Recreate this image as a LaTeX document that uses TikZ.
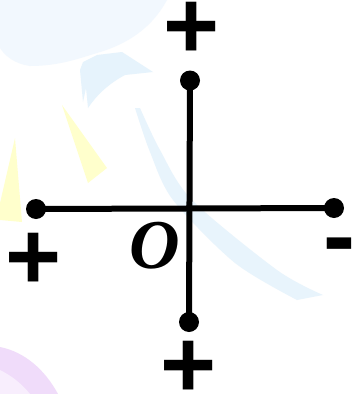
\documentclass[tikz,border=0pt]{standalone}
\usepackage{fontspec}
\setmainfont{Liberation Sans}
\newfontfamily\oserif{Liberation Serif}
\definecolor{paleblue}{HTML}{F2F8FE}
\definecolor{lightblue}{HTML}{E6F3FC}
\definecolor{arcblue}{HTML}{E8F4FC}
\definecolor{paleyellow}{HTML}{FFFFCC}
\definecolor{lilac}{HTML}{F0DCFA}
\definecolor{palelilac}{HTML}{F8EEFD}
\tikzset{
  dot/.style={circle,fill=black,inner sep=0pt,minimum size=20pt},
  axisline/.style={line width=6pt,black},
  sign/.style={inner sep=0pt,font=\fontsize{96}{96}\selectfont\bfseries},
  origin/.style={inner sep=0pt,font=\fontsize{70}{70}\selectfont\oserif\bfseries\itshape}
}
\begin{document}
\begin{tikzpicture}[x=1pt,y=-1pt]
\useasboundingbox (0,0) rectangle (355,394);
\fill[white] (0,0) rectangle (355,394);
% background decoration
\fill[paleblue] (0,0) -- (167,0) .. controls (155,22) and (135,42) .. (97,53)
  .. controls (80,58) and (60,66) .. (30,66) .. controls (15,64) and (5,56) .. (0,48) -- cycle;
\fill[lightblue] (83,62) -- (97,55) -- (122,52) -- (153,72) -- (125,75)
  .. controls (108,84) and (96,96) .. (88,108) -- (86,88) -- (83,102) -- (80,70) -- cycle;
\fill[arcblue] plot[smooth] coordinates {(135,108) (150,152) (173,200) (235,263) (297,300)}
  -- (323,295) -- plot[smooth] coordinates {(323,295) (277,270) (192,200) (160,150) (140,108)} -- cycle;
\fill[paleyellow] (62,105) -- (107,168) -- (88,183) -- cycle;
\fill[paleyellow] (15,138) -- (22,222) -- (0,220) -- (0,203) -- cycle;
\fill[lilac] (0,347) .. controls (25,352) and (45,370) .. (58,394) -- (0,394) -- cycle;
\fill[palelilac] (0,370) .. controls (12,376) and (22,384) .. (30,394) -- (0,394) -- cycle;
% axes
\node[dot] (t) at (190,80.5) {};
\node[dot] (b) at (189,322) {};
\node[dot] (l) at (36,209) {};
\node[dot] (r) at (334,208) {};
\draw[axisline] (t.center) -- (b.center);
\draw[axisline] (l.center) -- (r.center);
% labels
\node[sign] (pt) at (192,30) {+};
\node[sign] (pl) at (33.5,261.5) {+};
\node[sign] (pb) at (189,369.5) {+};
\node[sign] (mr) at (339,253.5) {-};
\node[origin] (o) at (154.5,246) {O};
\end{tikzpicture}
\end{document}
